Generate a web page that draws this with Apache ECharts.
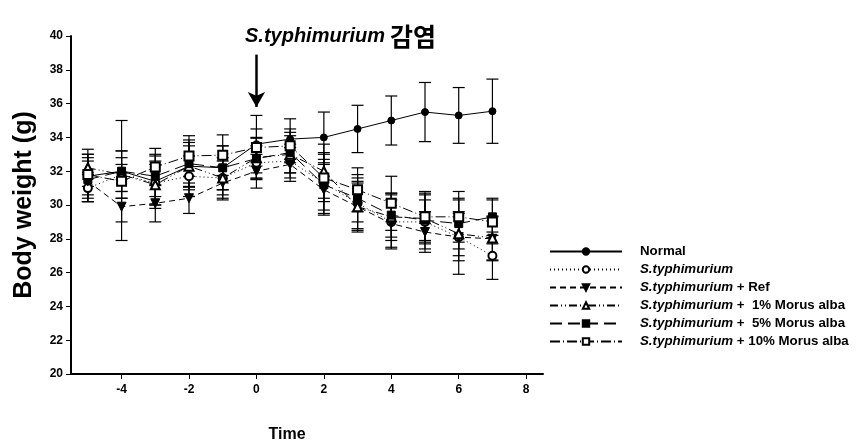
<!DOCTYPE html>
<html>
<head>
<meta charset="utf-8">
<script src="https://cdn.jsdelivr.net/npm/echarts@6/dist/echarts.min.js"></script>
<style>html,body{margin:0;padding:0;background:#fff}#c{width:866px;height:448px}</style>
</head>
<body>
<div id="c"></div>
<script>
const times = [-5, -4, -3, -2, -1, 0, 1, 2, 3, 4, 5, 6, 7];
const xTicks = [-4, -2, 0, 2, 4, 6, 8];
const seriesNames = ['Normal', 'S.typhimurium', 'S.typhimurium + Ref', 'S.typhimurium +  1% Morus alba', 'S.typhimurium +  5% Morus alba', 'S.typhimurium + 10% Morus alba'];

const normal   = [31.7, 32.0, 31.4, 32.3, 32.2, 33.6, 33.9, 34.0, 34.5, 35.0, 35.5, 35.3, 35.55];
const sTyph    = [31.0, 31.8, 31.3, 31.7, 31.6, 32.5, 32.6, 31.3, 30.1, 29.0, 29.0, 28.1, 27.0];
const ref      = [31.4, 29.9, 30.1, 30.4, 31.3, 32.0, 32.4, 30.9, 29.9, 28.9, 28.4, 28.1, 28.0];
const morus1   = [32.2, 31.8, 31.2, 32.3, 31.6, 32.8, 33.0, 32.0, 29.9, 29.3, 29.2, 28.3, 28.05];
const morus5   = [31.5, 32.0, 31.7, 32.45, 32.2, 32.75, 33.1, 31.2, 30.4, 29.4, 29.1, 28.9, 29.3];
const morus10  = [31.8, 31.4, 32.25, 32.9, 32.95, 33.4, 33.5, 31.6, 30.9, 30.1, 29.3, 29.3, 29.0];

const normalSD  = [1.3, 3.0, 1.6, 1.4, 1.3, 1.7, 1.2, 1.5, 1.4, 1.45, 1.75, 1.65, 1.9];
const sTyphSD   = [0.8, 1.4, 1.3, 1.2, 1.2, 1.0, 1.0, 1.8, 1.5, 1.6, 1.6, 2.2, 1.4];
const refSD     = [1.2, 2.0, 1.1, 0.9, 1.0, 1.0, 1.0, 1.5, 1.4, 1.4, 1.2, 1.4, 1.3];
const morus1SD  = [1.1, 1.0, 1.2, 1.2, 1.0, 1.2, 1.1, 1.6, 1.5, 1.4, 1.5, 1.3, 1.3];
const morus5SD  = [1.3, 1.2, 1.2, 1.4, 1.3, 1.2, 1.2, 1.5, 1.4, 1.3, 1.2, 1.5, 1.1];
const morus10SD = [1.2, 1.0, 1.1, 1.2, 1.2, 1.1, 1.0, 1.4, 1.3, 1.6, 1.5, 1.5, 1.3];

const FONT = '"Liberation Sans", Arial, sans-serif';
const means = [normal, sTyph, ref, morus1, morus5, morus10];
const sds = [normalSD, sTyphSD, refSD, morus1SD, morus5SD, morus10SD];
const symbols = ['circle', 'emptyCircle', 'triangle', 'emptyTriangle', 'rect', 'emptyRect'];
const rotates = [0, 0, 180, 0, 0, 0];
const dashes = ['solid', [1, 3], [6, 4], [8, 3, 1, 3, 1, 3], [12, 6], [10, 3, 1, 3]];
const sizes = [7, 8, 9, 9, 8, 9];

function renderErr(params, api) {
  const x = api.value(0), lo = api.value(1), hi = api.value(2);
  const a = api.coord([x, hi]), b = api.coord([x, lo]);
  const w = 6;
  const st = {stroke: '#000', lineWidth: 1.2};
  return {type: 'group', children: [
    {type: 'line', shape: {x1: a[0], y1: a[1], x2: b[0], y2: b[1]}, style: st},
    {type: 'line', shape: {x1: a[0] - w, y1: a[1], x2: a[0] + w, y2: a[1]}, style: st},
    {type: 'line', shape: {x1: b[0] - w, y1: b[1], x2: b[0] + w, y2: b[1]}, style: st}
  ]};
}

const series = [];
means.forEach((m, i) => {
  series.push({
    type: 'custom', name: seriesNames[i] + '_err', renderItem: renderErr, z: 1, silent: true,
    data: times.map((t, k) => [t, m[k] - sds[i][k], m[k] + sds[i][k]])
  });
});
means.forEach((m, i) => {
  const s = {
    type: 'line', name: seriesNames[i], z: 3,
    data: times.map((t, k) => [t, m[k]]),
    symbol: symbols[i], symbolSize: sizes[i], symbolRotate: rotates[i], showAllSymbol: true,
    lineStyle: {color: '#000', width: 1, type: dashes[i]},
    itemStyle: {color: '#000', borderColor: '#000', borderWidth: 1},
    animation: false
  };
  if (i === 0) {
    s.markLine = {
      silent: true, animation: false,
      symbol: ['none', 'arrow'], symbolSize: [13, 15],
      label: {show: false},
      lineStyle: {color: '#000', width: 2.5, type: 'solid'},
      data: [[{coord: [0, 38.9]}, {coord: [0, 35.8]}]]
    };
  }
  series.push(s);
});

const legendLabel = {
  'Normal': '{b|Normal}',
  'S.typhimurium': '{i|S.typhimurium}',
  'S.typhimurium + Ref': '{i|S.typhimurium}{b| + Ref}',
  'S.typhimurium +  1% Morus alba': '{i|S.typhimurium}{b| +  1% Morus alba}',
  'S.typhimurium +  5% Morus alba': '{i|S.typhimurium}{b| +  5% Morus alba}',
  'S.typhimurium + 10% Morus alba': '{i|S.typhimurium}{b| + 10% Morus alba}'
};

const chart = echarts.init(document.getElementById('c'), null, {renderer: 'canvas'});
chart.setOption({
  animation: false,
  backgroundColor: '#fff',
  title: {
    text: '{i|S.typhimurium} {k|감염}',
    left: 240, top: 19,
    textStyle: {
      rich: {
        i: {fontFamily: FONT, fontStyle: 'italic', fontWeight: 'bold', fontSize: 20, color: '#000'},
        k: {fontFamily: '"Noto Sans CJK KR", sans-serif', fontWeight: 'bold', fontSize: 25, color: '#000'}
      }
    }
  },
  grid: {left: 71, right: 323, top: 36, bottom: 72, containLabel: false},
  xAxis: {
    type: 'value', min: -5.5, max: 8.5,
    name: 'Time', nameLocation: 'middle', nameGap: 53,
    nameTextStyle: {fontFamily: FONT, fontWeight: 'bold', fontSize: 16, color: '#000', padding: [0, 40, 0, 0]},
    axisLine: {show: true, onZero: false, lineStyle: {color: '#000', width: 2}},
    axisTick: {show: true, length: 5, customValues: xTicks, lineStyle: {color: '#000', width: 1}},
    axisLabel: {customValues: xTicks, fontFamily: FONT, fontWeight: 'bold', fontSize: 12, color: '#000', margin: 10},
    splitLine: {show: false}
  },
  yAxis: {
    type: 'value', min: 20, max: 40, interval: 2,
    name: 'Body weight (g)', nameLocation: 'middle', nameGap: 34, nameRotate: 90,
    nameTextStyle: {fontFamily: FONT, fontWeight: 'bold', fontSize: 25, color: '#000'},
    axisLine: {show: true, onZero: false, lineStyle: {color: '#000', width: 2}},
    axisTick: {show: true, length: 5, lineStyle: {color: '#000', width: 1}},
    axisLabel: {fontFamily: FONT, fontWeight: 'bold', fontSize: 12, color: '#000', margin: 8},
    splitLine: {show: false}
  },
  legend: {
    data: seriesNames,
    orient: 'vertical', left: 544, top: 240,
    itemWidth: 72, itemHeight: 8, itemGap: 5,
    selectedMode: false,
    formatter: n => legendLabel[n],
    textStyle: {
      padding: [0, 0, 0, 13],
      rich: {
        i: {fontFamily: FONT, fontStyle: 'italic', fontWeight: 'bold', fontSize: 13.3, color: '#000'},
        b: {fontFamily: FONT, fontWeight: 'bold', fontSize: 13.3, color: '#000'}
      }
    }
  },
  series: series
});
</script>
</body>
</html>
